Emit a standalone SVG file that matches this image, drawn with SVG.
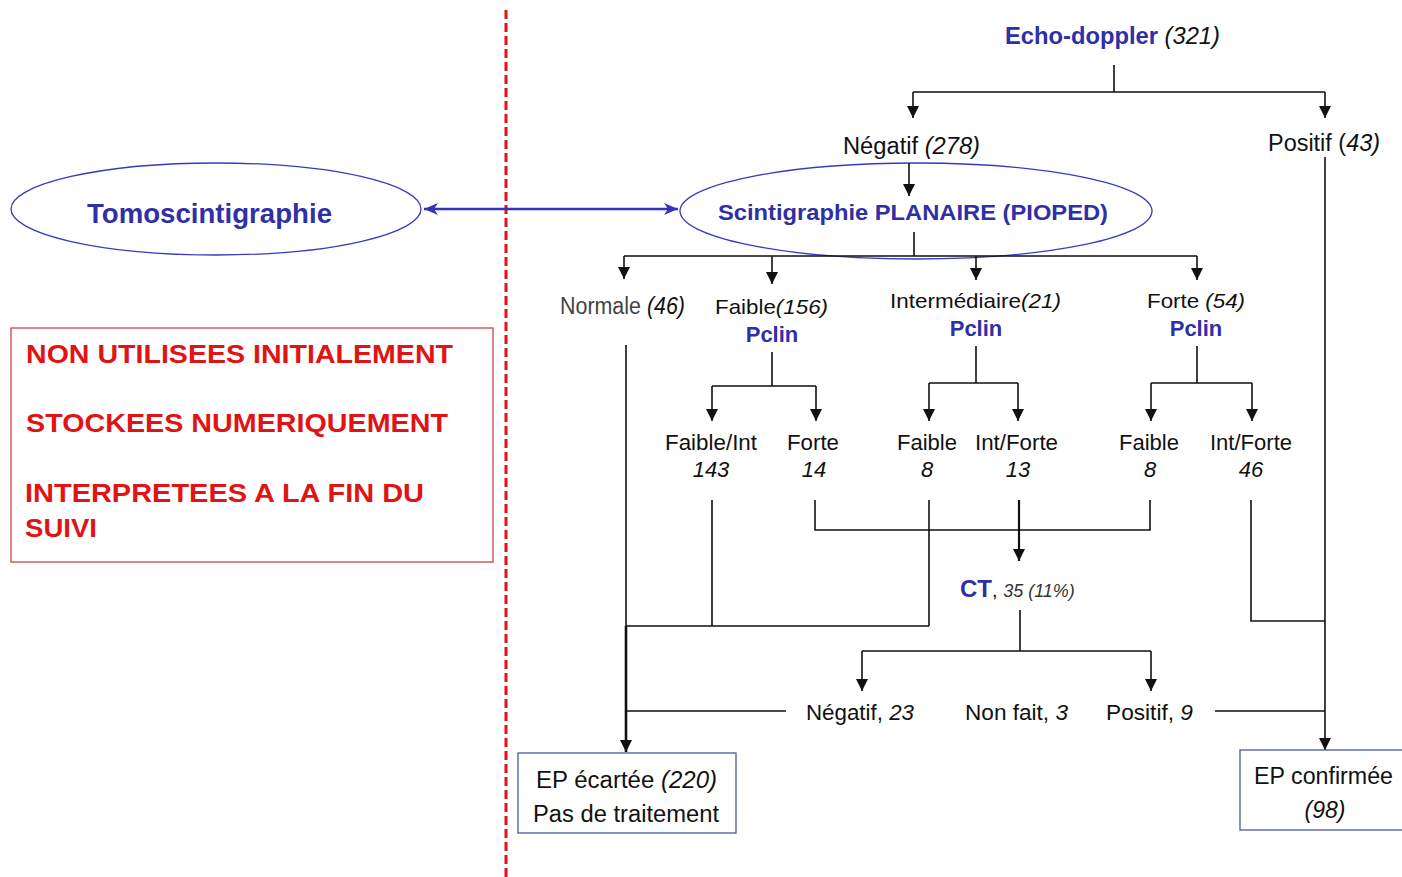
<svg xmlns="http://www.w3.org/2000/svg" width="1402" height="877" viewBox="0 0 1402 877">
<style>
text{font-family:"Liberation Sans",Arial,sans-serif;fill:#111}
.t{font-size:23px}
.s{font-size:22px}
.b{font-weight:bold}
.i{font-style:italic}
.blue{fill:#2f2fa6}
.red{fill:#e01414;font-weight:bold;font-size:25px}
.ln{stroke:#111;stroke-width:1.6;fill:none}
.ar{stroke:#111;stroke-width:1.6;fill:none;marker-end:url(#ah)}
.gray{fill:#444}
.ell{fill:#fff;stroke:#3a3ac0;stroke-width:1.3}
</style>
<defs>
<marker id="ah" markerUnits="userSpaceOnUse" markerWidth="12" markerHeight="12" refX="12" refY="6" orient="auto"><path d="M0,0 L12,6 L0,12 z" fill="#111"/></marker>
<marker id="bh" markerUnits="userSpaceOnUse" markerWidth="16" markerHeight="14" refX="15" refY="7" orient="auto-start-reverse"><path d="M1,1 L15,7 L1,13 L5,7 z" fill="#3333bb"/></marker>
</defs>
<rect width="1402" height="877" fill="#fff"/>

<line x1="506" y1="10" x2="506" y2="877" stroke="#e01414" stroke-width="3" stroke-dasharray="9,4"/>

<g id="scinti">
<ellipse class="ell" cx="916" cy="211" rx="236" ry="48"/>
<text x="718" y="220" font-size="22" class="b blue" textLength="390" lengthAdjust="spacingAndGlyphs">Scintigraphie PLANAIRE (PIOPED)</text>
</g>
<g id="tomo">
<ellipse class="ell" cx="216" cy="209" rx="205" ry="46"/>
<text x="87" y="223" font-size="27" class="b blue" textLength="245" lengthAdjust="spacingAndGlyphs">Tomoscintigraphie</text>
</g>

<g id="connectors">
<path class="ln" d="M1114,65 V92 M913,92 H1325"/>
<path class="ar" d="M913,92 V118"/>
<path class="ar" d="M1325,92 V118"/>
<path class="ar" d="M909,163 V196"/>
<path class="ln" d="M914,232 V256 M624,256 H1197"/>
<path class="ar" d="M624,256 V279"/>
<path class="ar" d="M772,256 V284"/>
<path class="ar" d="M976,256 V280"/>
<path class="ar" d="M1197,256 V280"/>
<path class="ln" d="M772,352 V386 M712,386 H816"/>
<path class="ar" d="M712,386 V421"/>
<path class="ar" d="M816,386 V421"/>
<path class="ln" d="M976,346 V383 M929,383 H1018"/>
<path class="ar" d="M929,383 V421"/>
<path class="ar" d="M1018,383 V421"/>
<path class="ln" d="M1197,346 V383 M1151,383 H1252"/>
<path class="ar" d="M1151,383 V421"/>
<path class="ar" d="M1252,383 V421"/>
<path class="ln" d="M626,345 V626 M712,500 V626 M929,500 V626 M626,626 H929"/>
<path d="M626,626 V752" stroke="#111" stroke-width="2.6" fill="none" marker-end="url(#ah)"/>
<path class="ln" d="M815,500 V530 H1150 V500"/>
<path d="M1019,500 V561" stroke="#111" stroke-width="2.2" fill="none" marker-end="url(#ah)"/>
<path class="ln" d="M1020,610 V651 M862,651 H1151"/>
<path class="ar" d="M862,651 V691"/>
<path class="ar" d="M1151,651 V691"/>
<path class="ln" d="M626,711 H786 M1215,711 H1325 M1251,500 V621 H1325"/>
<path class="ar" d="M1325,157 V750"/>
<line x1="424" y1="209" x2="678" y2="209" stroke="#3333bb" stroke-width="2.5" marker-start="url(#bh)" marker-end="url(#bh)"/>
</g>

<g id="echo"><text x="1005" y="44" class="t" textLength="215" lengthAdjust="spacingAndGlyphs"><tspan class="b blue">Echo-doppler</tspan><tspan class="i"> (321)</tspan></text></g>
<g id="negatif"><text x="843" y="154" class="t" textLength="137" lengthAdjust="spacingAndGlyphs">Négatif <tspan class="i">(278)</tspan></text></g>
<g id="positif"><text x="1268" y="151" class="t" textLength="112" lengthAdjust="spacingAndGlyphs">Positif (<tspan class="i">43)</tspan></text></g>

<g id="note">
<rect x="11" y="328" width="482" height="234" fill="#fff" stroke="#c84848" stroke-width="1.3"/>
<text x="26" y="363" class="red" textLength="427" lengthAdjust="spacingAndGlyphs">NON UTILISEES INITIALEMENT</text>
<text x="26" y="432" class="red" textLength="422" lengthAdjust="spacingAndGlyphs">STOCKEES NUMERIQUEMENT</text>
<text x="25" y="502" class="red" textLength="399" lengthAdjust="spacingAndGlyphs">INTERPRETEES A LA FIN DU</text>
<text x="25" y="537" class="red" textLength="72" lengthAdjust="spacingAndGlyphs">SUIVI</text>
</g>

<g id="normale"><text x="560" y="314" class="t" textLength="125" lengthAdjust="spacingAndGlyphs"><tspan class="gray">Normale</tspan> <tspan class="i">(46)</tspan></text></g>
<g id="faible"><text x="715" y="314" font-size="21" textLength="113" lengthAdjust="spacingAndGlyphs">Faible<tspan class="i">(156)</tspan></text>
<text x="772" y="342" text-anchor="middle" font-size="22" class="b blue">Pclin</text></g>
<g id="inter"><text x="890" y="308" font-size="21" textLength="171" lengthAdjust="spacingAndGlyphs">Intermédiaire<tspan class="i">(21)</tspan></text>
<text x="976" y="336" text-anchor="middle" font-size="22" class="b blue">Pclin</text></g>
<g id="forte"><text x="1147" y="308" font-size="21" textLength="98" lengthAdjust="spacingAndGlyphs">Forte <tspan class="i">(54)</tspan></text>
<text x="1196" y="336" text-anchor="middle" font-size="22" class="b blue">Pclin</text></g>

<g id="f-fi"><text x="665" y="450" class="s" textLength="92" lengthAdjust="spacingAndGlyphs">Faible/Int</text><text x="711" y="477" text-anchor="middle" class="s i">143</text></g>
<g id="f-fo"><text x="787" y="450" class="s" textLength="52" lengthAdjust="spacingAndGlyphs">Forte</text><text x="814" y="477" text-anchor="middle" class="s i">14</text></g>
<g id="i-f"><text x="897" y="450" class="s" textLength="60" lengthAdjust="spacingAndGlyphs">Faible</text><text x="927" y="477" text-anchor="middle" class="s i">8</text></g>
<g id="i-if"><text x="975" y="450" class="s" textLength="83" lengthAdjust="spacingAndGlyphs">Int/Forte</text><text x="1018" y="477" text-anchor="middle" class="s i">13</text></g>
<g id="fo-f"><text x="1119" y="450" class="s" textLength="60" lengthAdjust="spacingAndGlyphs">Faible</text><text x="1150" y="477" text-anchor="middle" class="s i">8</text></g>
<g id="fo-if"><text x="1210" y="450" class="s" textLength="82" lengthAdjust="spacingAndGlyphs">Int/Forte</text><text x="1251" y="477" text-anchor="middle" class="s i">46</text></g>

<g id="ct"><text x="960" y="597"><tspan font-size="24" class="b blue">CT</tspan><tspan font-size="20">, </tspan><tspan font-size="18" class="i" fill="#333">35 (11%)</tspan></text></g>

<g id="ct-neg"><text x="806" y="720" class="s" textLength="108" lengthAdjust="spacingAndGlyphs">Négatif, <tspan class="i">23</tspan></text></g>
<g id="ct-nf"><text x="965" y="720" class="s" textLength="103" lengthAdjust="spacingAndGlyphs">Non fait, <tspan class="i">3</tspan></text></g>
<g id="ct-pos"><text x="1106" y="720" class="s" textLength="87" lengthAdjust="spacingAndGlyphs">Positif, <tspan class="i">9</tspan></text></g>

<g id="ecartee">
<rect x="518" y="753" width="218" height="80" fill="#fff" stroke="#4a5a9a" stroke-width="1.3"/>
<text x="536" y="788" class="t" textLength="181" lengthAdjust="spacingAndGlyphs">EP écartée <tspan class="i">(220)</tspan></text>
<text x="533" y="822" class="t" textLength="186" lengthAdjust="spacingAndGlyphs">Pas de traitement</text>
</g>
<g id="confirmee">
<rect x="1240" y="750" width="170" height="80" fill="#fff" stroke="#4a5a9a" stroke-width="1.3"/>
<text x="1254" y="784" class="t" textLength="139" lengthAdjust="spacingAndGlyphs">EP confirmée</text>
<text x="1325" y="818" text-anchor="middle" class="t i">(98)</text>
</g>
</svg>
